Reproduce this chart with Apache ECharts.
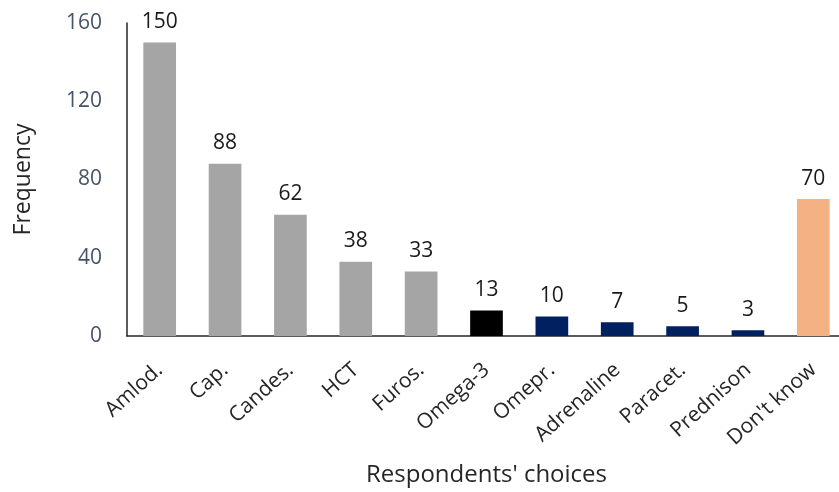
<!DOCTYPE html>
<html>
<head>
<meta charset="utf-8">
<script src="https://cdn.jsdelivr.net/npm/echarts@6/dist/echarts.min.js"></script>
<style>
  html, body { margin: 0; padding: 0; background: #fff; }
  #chart { width: 839px; height: 492px; }
</style>
</head>
<body>
<div id="chart"></div>
<script>
// Medications named by respondents and how often each was chosen
const categories = ['Amlod.', 'Cap.', 'Candes.', 'HCT', 'Furos.', 'Omega-3', 'Omepr.', 'Adrenaline', 'Paracet.', 'Prednison', "Don't know"];
const frequencies = [150, 88, 62, 38, 33, 13, 10, 7, 5, 3, 70];
const barColors = ['#a5a5a5', '#a5a5a5', '#a5a5a5', '#a5a5a5', '#a5a5a5', '#000000', '#002060', '#002060', '#002060', '#002060', '#f4b183'];
const yTicks = [0, 40, 80, 120, 160];

const FONT = '"Open Sans", "Noto Sans", sans-serif';

const chart = echarts.init(document.getElementById('chart'), null, { renderer: 'canvas' });

chart.setOption({
  animation: false,
  backgroundColor: '#ffffff',
  // plot area runs a little past the right edge of the canvas
  grid: { left: 127, width: 719, top: 23, bottom: 156, containLabel: false, outerBoundsMode: 'none' },
  xAxis: {
    type: 'category',
    data: categories,
    name: "Respondents' choices",
    nameLocation: 'middle',
    nameGap: 127,
    nameTextStyle: { color: '#262626', fontSize: 24, fontFamily: FONT },
    axisLine: { show: true, lineStyle: { color: '#262626', width: 1.5 } },
    axisTick: { show: false },
    axisLabel: {
      rotate: 42,
      interval: 0,
      margin: 31,
      color: '#262626',
      fontSize: 21,
      fontFamily: FONT
    }
  },
  yAxis: {
    type: 'value',
    min: yTicks[0],
    max: yTicks[yTicks.length - 1],
    interval: 40,
    name: 'Frequency',
    nameLocation: 'middle',
    nameGap: 92,
    nameRotate: 90,
    nameTextStyle: { color: '#262626', fontSize: 23, fontFamily: FONT },
    axisLine: { show: true, lineStyle: { color: '#262626', width: 1.5 } },
    axisTick: { show: false },
    splitLine: { show: false },
    axisLabel: {
      margin: 25,
      color: '#44546a',
      fontSize: 21,
      fontFamily: FONT
    }
  },
  series: [{
    type: 'bar',
    barWidth: '50%',
    data: frequencies.map((v, i) => ({ value: v, itemStyle: { color: barColors[i] } })),
    label: {
      show: true,
      position: 'top',
      distance: 10,
      color: '#1a1a1a',
      fontSize: 21,
      fontFamily: FONT
    }
  }]
});
</script>
</body>
</html>
